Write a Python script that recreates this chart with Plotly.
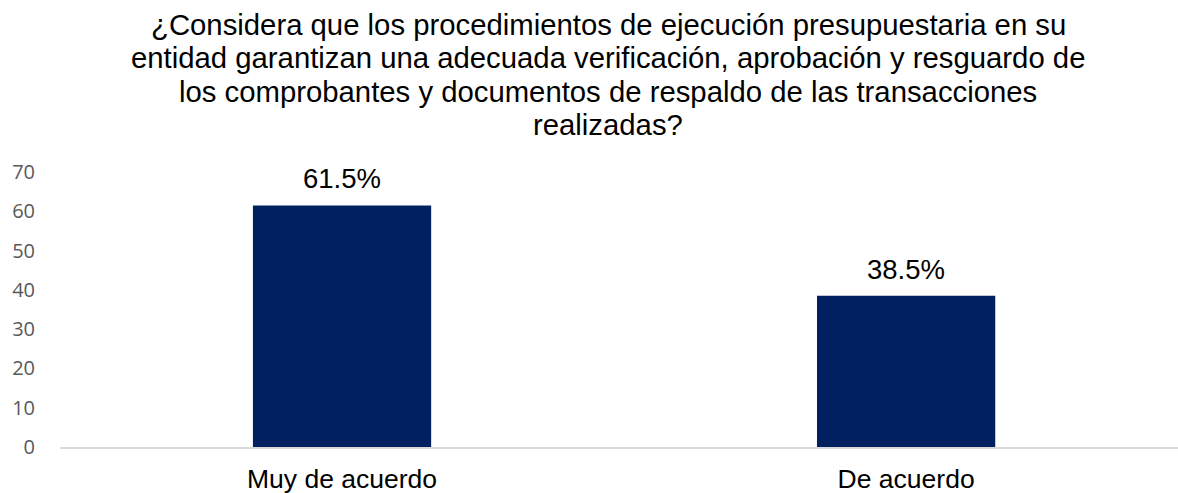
import plotly.graph_objects as go

categories = ["Muy de acuerdo", "De acuerdo"]
values = [61.5, 38.5]
value_labels = ["61.5%", "38.5%"]
y_ticks = [0, 10, 20, 30, 40, 50, 60, 70]
title_lines = [
    "¿Considera que los procedimientos de ejecución presupuestaria en su",
    "entidad garantizan una adecuada verificación, aprobación y resguardo de",
    "los comprobantes y documentos de respaldo de las transacciones",
    "realizadas?",
]

TEXT_FONT = "Liberation Sans, Arial"
W, H = 1178, 493
M_L, M_R, M_T, M_B = 60, 0, 172, 46
plot_w = W - M_L - M_R
plot_h = H - M_T - M_B

fig = go.Figure()
fig.add_trace(go.Bar(
    x=[0, 1],
    y=values,
    width=0.316,
    marker=dict(color="#002060", line=dict(width=0)),
    hoverinfo="skip",
))

# Value labels above each bar
for xi, (v, lab) in enumerate(zip(values, value_labels)):
    fig.add_annotation(
        x=xi, y=v, text=lab, showarrow=False,
        xanchor="center", yanchor="bottom", yshift=9,
        font=dict(family=TEXT_FONT, size=27.5, color="#000000"),
    )

# Title drawn line by line for fixed line spacing
for i, line in enumerate(title_lines):
    px = 24 + 33.5 * i
    fig.add_annotation(
        text=line, xref="paper", x=(608 - M_L) / plot_w,
        yref="paper", y=1 + (M_T - px) / plot_h,
        showarrow=False, xanchor="center", yanchor="middle",
        font=dict(family=TEXT_FONT, size=29.3, color="#000000"),
    )

fig.update_layout(
    width=W, height=H,
    margin=dict(l=M_L, r=M_R, t=M_T, b=M_B),
    paper_bgcolor="white", plot_bgcolor="white",
    showlegend=False,
    xaxis=dict(
        range=[-0.5, 1.482],
        tickmode="array", tickvals=[0, 1], ticktext=categories,
        tickfont=dict(family=TEXT_FONT, size=26.5, color="#000000"),
        showgrid=False, zeroline=False,
        showline=True, linecolor="#d9d9d9", linewidth=2,
        ticks="", ticklabelstandoff=7,
    ),
    yaxis=dict(
        range=[0, 70],
        tickmode="array", tickvals=y_ticks,
        tickfont=dict(family="Open Sans, Lato", size=20, color="#595959"),
        showgrid=False, zeroline=False, showline=False,
        ticks="", ticklabelstandoff=24,
    ),
)

fig.write_html("out.html")
